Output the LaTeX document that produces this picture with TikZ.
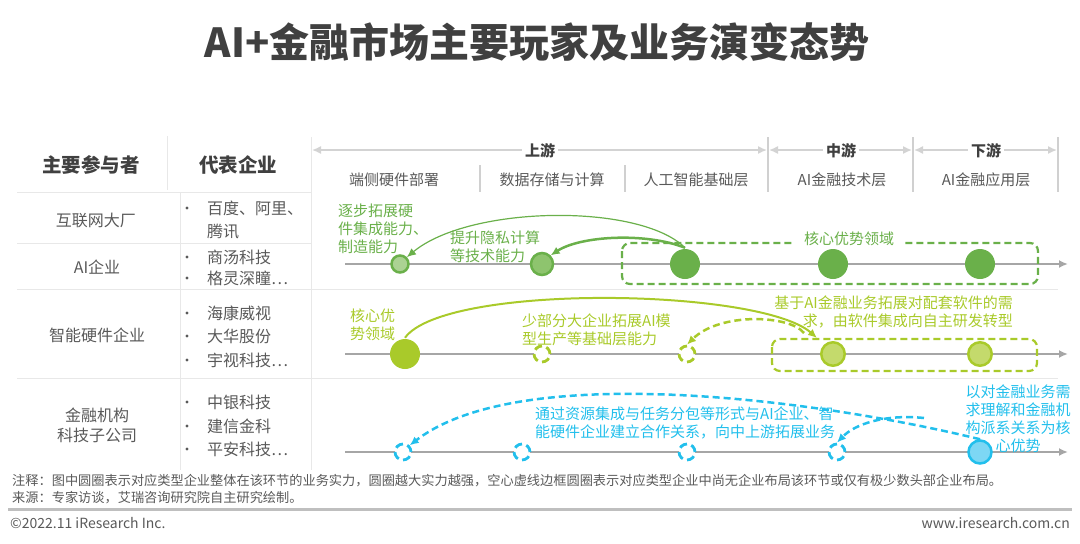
\documentclass[tikz,border=0pt]{standalone}
\usepackage{fontspec}
\setmainfont{Noto Sans CJK SC}
\usetikzlibrary{arrows,arrows.meta,positioning}

\definecolor{titlegray}{HTML}{404040}
\definecolor{txtgray}{HTML}{595959}
\definecolor{linegray}{HTML}{E8E8E8}
\definecolor{sepgray}{HTML}{D0D0D0}
\definecolor{axisgray}{HTML}{A6A6A6}
\definecolor{footgray}{HTML}{BFBFBF}
\definecolor{aigreen}{HTML}{6AB04A}
\definecolor{aigreenmd}{HTML}{8EC46E}
\definecolor{aigreenlt}{HTML}{ABD293}
\definecolor{hwgreen}{HTML}{A9CA2A}
\definecolor{hwgreenlt}{HTML}{C4DA6C}
\definecolor{fincyan}{HTML}{22BFEC}
\definecolor{fincyanlt}{HTML}{7DD7F4}

\begin{document}
\begin{tikzpicture}[x=1pt,y=-1pt,>={Latex[length=9pt,width=8pt]},
  every node/.style={inner sep=0pt},
  title/.style={font=\fontsize{40}{44}\selectfont\bfseries, text=titlegray},
  colhead/.style={font=\fontsize{19.5}{22}\selectfont\bfseries, text=titlegray},
  cell/.style={font=\fontsize{16}{20}\selectfont, text=txtgray},
  stage/.style={font=\fontsize{15}{18}\selectfont, text=txtgray},
  stagehead/.style={font=\fontsize{15}{18}\selectfont\bfseries, text=titlegray, fill=white, inner xsep=3pt, inner ysep=2pt},
  note/.style={font=\fontsize{15}{18}\selectfont, align=left},
  foot/.style={font=\fontsize{13.2}{16}\selectfont, text=txtgray},
  grid/.style={draw=linegray, line width=1pt},
  sep/.style={draw=sepgray, line width=1.8pt},
  hdr/.style={draw=linegray!80!gray, line width=1.5pt, <->},
  axis/.style={draw=axisgray, line width=2pt, ->},
  dot/.style={circle, line width=2.5pt},
  hollow/.style={circle, draw=#1, fill=white, line width=2.8pt, dash pattern=on 8pt off 4.5pt, minimum size=16pt},
  box/.style={line width=2.2pt, dash pattern=on 7pt off 4pt, rounded corners=8pt},
  dashline/.style={line width=2.5pt, dash pattern=on 7pt off 4pt}]
\useasboundingbox (0,0) rectangle (1080,544);
% Title
\node[title] (ttl) at (537,42) {AI+金融市场主要玩家及业务演变态势};
% Table head and grid
\node[colhead] (hPlayer) at (91,165) {主要参与者};
\node[colhead] (hFirm) at (238,165) {代表企业};
\draw[grid] (167,136) -- (167,190);
\draw[grid] (180,193) -- (180,470);
\draw[grid] (311,137) -- (311,470);
\draw[grid] (17,192) -- (311,192);
\draw[grid] (17,243) -- (311,243);
\draw[grid] (17,289) -- (1058,289);
\draw[grid] (17,378) -- (1058,378);
% Players
\node[cell] (rNet) at (96,220) {互联网大厂};
\node[cell] (rAI) at (97,267) {AI企业};
\node[cell] (rHW) at (97,335) {智能硬件企业};
\node[cell,align=center] (rFin) at (97,425) {金融机构\\科技子公司};
% Firms
\foreach \n/\y/\t in {1/208/百度、阿里、,2/257/商汤科技,3/278/格灵深瞳…,4/313/海康威视,5/336/大华股份,6/360/宇视科技…,7/402/中银科技,8/426/建信金科,9/449/平安科技…}{
  \fill[txtgray] (187,\y) circle (1.7);
  \node[cell,anchor=west] (firm\n) at (207,\y) {\t};
}
\node[cell,anchor=west] (firm1b) at (207,232) {腾讯};
% Value chain head
\draw[hdr] (312,150) -- (767,150);
\draw[hdr] (769,150) -- (912,150);
\draw[hdr] (914,150) -- (1057,150);
\node[stagehead] (up) at (540,151) {上游};
\node[stagehead] (mid) at (841,151) {中游};
\node[stagehead] (down) at (986,151) {下游};
\foreach \x in {768,913,1058} \draw[sep] (\x,137) -- (\x,192);
\foreach \x in {480,625} \draw[sep] (\x,165) -- (\x,192);
\foreach \n/\x/\t in {1/394/端侧硬件部署,2/552/数据存储与计算,3/696/人工智能基础层,4/842/AI金融技术层,5/986/AI金融应用层}
  \node[stage] (s\n) at (\x,180) {\t};
% Timelines
\draw[axis] (345,264) -- (1068,264);
\draw[axis] (345,354) -- (1068,354);
\draw[axis] (345,452) -- (1068,452);
% AI row
\draw[aigreen, box] (622,243) rectangle (1038,284);
\node[note, text=aigreen, fill=white, inner xsep=10pt, inner ysep=2pt] (core1) at (849,239) {核心优势领域};
\node[dot, draw=aigreen, fill=aigreenlt, minimum size=17pt] (g1) at (400,264) {};
\node[dot, draw=aigreen, fill=aigreenmd, minimum size=22pt] (g2) at (542,264) {};
\foreach \n/\x in {3/685,4/833,5/980} \node[dot, fill=aigreen, minimum size=30pt] (g\n) at (\x,264) {};
\node[note, text=aigreen, anchor=west] (t1a) at (338,229) {逐步拓展硬\\件集成能力、\\制造能力};
\node[note, text=aigreen, anchor=west] (t1b) at (450,247) {提升隐私计算\\等技术能力};
\draw[aigreen, line width=1.2pt, ->] (g3.north) .. controls (640,203) and (470,205) .. (g1.north east);
\draw[aigreen, line width=2.5pt, ->] (g3.north) .. controls (645,232) and (580,236) .. (g2.north east);
% Hardware row
\draw[hwgreen, box] (772,339) rectangle (1037,371);
\node[dot, fill=hwgreen, minimum size=30pt] (h1) at (405,354) {};
\node[hollow=hwgreen] (h2) at (542,354) {};
\node[hollow=hwgreen] (h3) at (687,354) {};
\node[dot, draw=hwgreen, fill=hwgreenlt, minimum size=23.5pt] (h4) at (833,354) {};
\node[dot, draw=hwgreen, fill=hwgreenlt, minimum size=23.5pt] (h5) at (980,354) {};
\node[note, text=hwgreen, anchor=west] (t3a) at (350,325) {核心优\\势领域};
\node[note, text=hwgreen, anchor=west] (t3b) at (522,329.5) {少部分大企业拓展AI模\\型生产等基础层能力};
\node[note, text=hwgreen, anchor=east, align=right] (t3c) at (1013,312) {基于AI金融业务拓展对配套软件的需\\求，由软件集成向自主研发转型};
\coordinate (h4in) at (817,338);
\coordinate (h4out) at (804,333);
\draw[hwgreen, line width=2pt, ->] (h1.north) .. controls (445,283) and (760,288) .. (h4in);
\draw[hwgreen, dashline, ->] (h4out) .. controls (790,315) and (720,312) .. (h3.north);
% Finance row
\foreach \n/\x in {1/403,2/522,3/687,4/837} \node[hollow=fincyan] (k\n) at (\x,452) {};
\node[dot, draw=fincyan, fill=fincyanlt, minimum size=23pt] (k5) at (980,452) {};
\node[note, text=fincyan, anchor=west] (t4a) at (535,422.5) {通过资源集成与任务分包等形式与AI企业、智\\能硬件企业建立合作关系，向中上游拓展业务};
\node[note, text=fincyan, align=center] (t4b) at (1018,418.5) {以对金融业务需\\求理解和金融机\\构派系关系为核\\心优势};
\coordinate (k5out) at (924,418);
\draw[fincyan, dashline, ->] (k5.north) .. controls (820,400) and (520,360) .. (k1.north east);
\draw[fincyan, dashline, ->] (k5out) .. controls (885,414) and (855,424) .. (k4.north);
% Notes and footer
\node[foot, anchor=west] (note) at (12,481) {注释：图中圆圈表示对应类型企业整体在该环节的业务实力，圆圈越大实力越强，空心虚线边框圆圈表示对应类型企业中尚无企业布局该环节或仅有极少数头部企业布局。};
\node[foot, anchor=west] (src) at (12,498) {来源：专家访谈，艾瑞咨询研究院自主研究绘制。};
\draw[footgray, line width=3pt] (8,509) -- (1072,509);
\node[foot, font=\fontsize{14}{16}\selectfont, anchor=west] (copy) at (10,523) {©2022.11 iResearch Inc.};
\node[foot, font=\fontsize{14}{16}\selectfont, anchor=east] (web) at (1070,523) {www.iresearch.com.cn};
\end{tikzpicture}
\end{document}
